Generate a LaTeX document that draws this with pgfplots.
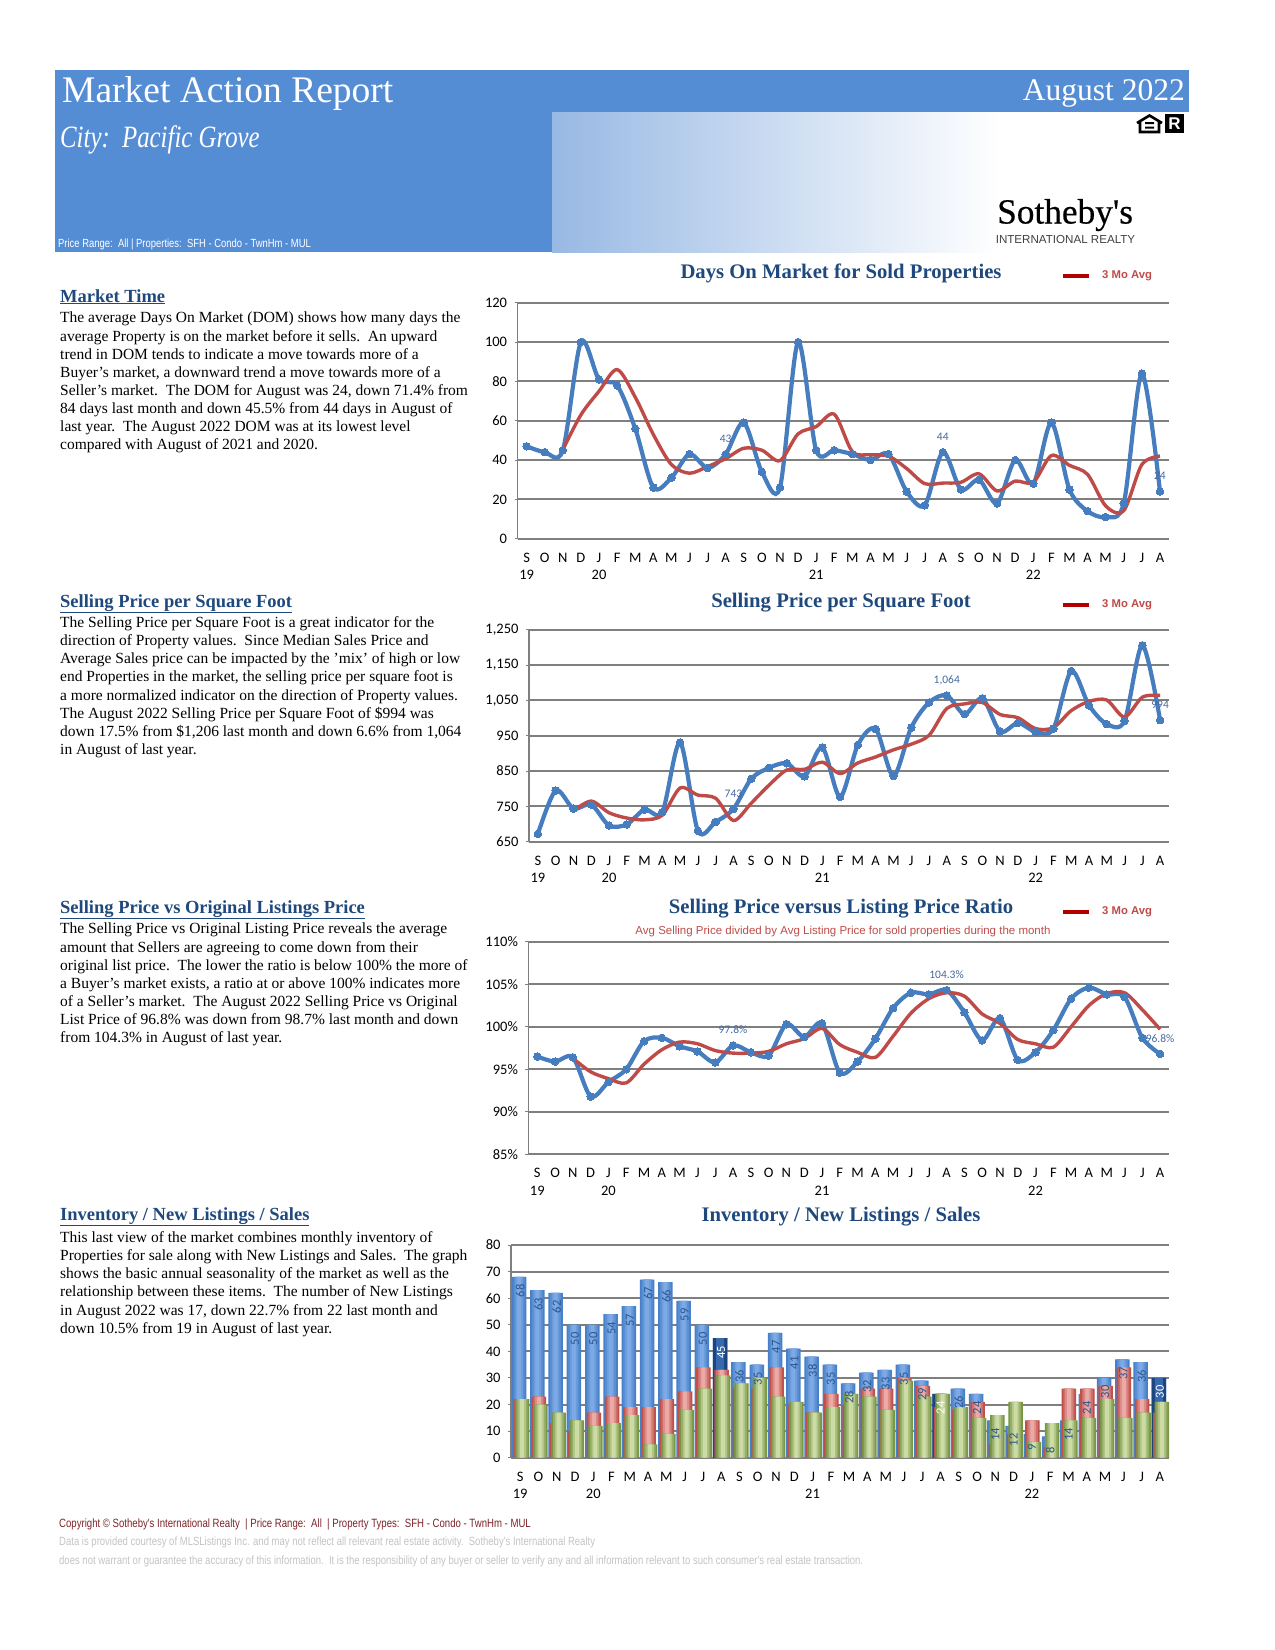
\documentclass[border=0pt]{standalone}
\usepackage{fontspec}
\usepackage{pgfplots}
\usepackage{pgfplotstable}
\pgfplotsset{compat=1.18}
\setmainfont{Liberation Serif}
\newfontfamily\chartfont{Carlito}
\newfontfamily\armain{Liberation Sans}
\newfontfamily\narrowfont[FakeStretch=0.8]{Liberation Sans}
\newfontfamily\cityfont[FakeStretch=0.8]{Liberation Serif Italic}
\newfontfamily\logofont[FakeBold=0.5]{Liberation Serif}
\definecolor{banner}{RGB}{85,141,213}
\definecolor{bannerlt}{RGB}{152,185,228}
\definecolor{navy}{RGB}{31,73,125}
\definecolor{gridgray}{RGB}{127,127,127}
\definecolor{linblue}{RGB}{70,125,190}
\definecolor{linred}{RGB}{190,75,72}
\definecolor{lblblue}{RGB}{70,105,160}
\definecolor{barlbl}{RGB}{45,85,140}
\definecolor{footred}{RGB}{125,35,40}
\definecolor{footgray}{RGB}{195,195,195}
\definecolor{bluee}{RGB}{72,128,200}
\definecolor{bluec}{RGB}{125,170,230}
\definecolor{darke}{RGB}{28,68,125}
\definecolor{darkc}{RGB}{55,105,175}
\definecolor{rede}{RGB}{190,80,75}
\definecolor{redc}{RGB}{235,170,165}
\definecolor{greene}{RGB}{120,150,70}
\definecolor{greenc}{RGB}{205,220,165}

% month index, value, 3 month average
\pgfplotstableread{
n dom avg
0 47 nan
1 44 nan
2 45 45.3
3 100 63
4 81 75
5 78 86
6 56 72
7 26 53
8 31 37.7
9 43 33.3
10 36 36.7
11 43 40.7
12 59 46
13 34 45
14 26 39.7
15 100 53.3
16 45 57
17 45 63.3
18 43 44.3
19 40 42.7
20 43 42
21 24 35.7
22 17 28
23 44 28.3
24 25 28.7
25 30 33
26 18 24.3
27 40 29.3
28 28 28.7
29 59 42.3
30 25 37.3
31 14 32.7
32 11 16.7
33 18 14.3
34 84 37.7
35 24 42
}\domtable
\pgfplotstableread{
n ppsf avg
0 672 nan
1 795 nan
2 744 737
3 755 765
4 696 732
5 699 717
6 741 712
7 734 725
8 931 802
9 681 782
10 706 773
11 743 710
12 828 759
13 859 810
14 872 853
15 835 855
16 917 875
17 777 843
18 924 873
19 969 890
20 836 910
21 973 926
22 1044 951
23 1064 1027
24 1011 1040
25 1056 1044
26 962 1010
27 986 1001
28 961 970
29 970 973
30 1133 1021
31 1036 1047
32 983 1051
33 992 1003
34 1206 1059
35 994 1064
}\ppsftable
\pgfplotstableread{
n ratio avg
0 96.5 nan
1 95.9 nan
2 96.4 96.3
3 91.8 94.7
4 93.5 93.9
5 95.0 93.4
6 98.3 95.6
7 98.7 97.3
8 97.7 98.2
9 97.1 98.0
10 95.8 97.2
11 97.8 96.9
12 97.0 96.9
13 96.6 97.1
14 100.3 98.0
15 98.8 98.6
16 100.4 99.8
17 94.6 97.9
18 95.9 97.0
19 98.6 96.4
20 102.2 98.9
21 104.0 101.6
22 103.8 103.3
23 104.3 104.0
24 101.7 103.6
25 98.4 101.5
26 101.0 100.4
27 96.1 98.5
28 97.0 98.0
29 99.6 97.6
30 103.3 100.0
31 104.6 102.5
32 103.8 103.9
33 103.5 104.0
34 98.7 102.0
35 96.8 99.7
}\ratiotable
\pgfplotstableread{
n inv newl sales
0 68 22 22
1 63 23 20
2 62 13 17
3 50 10 14
4 50 17 12
5 54 23 13
6 57 19 16
7 67 19 5
8 66 22 9
9 59 25 18
10 50 34 26
11 45 33 31
12 36 26 28
13 35 26 30
14 47 34 23
15 41 20 21
16 38 17 17
17 35 24 19
18 28 20 24
19 32 26 23
20 33 26 18
21 35 30 29
22 29 27 23
23 24 19 24
24 26 18 19
25 24 21 15
26 14 5 16
27 12 9 21
28 9 14 6
29 8 4 13
30 14 26 14
31 24 26 15
32 30 27 22
33 37 34 15
34 36 22 17
35 30 17 21
}\invtable

\pgfplotsset{
  mkt/.style={
    scale only axis,
    clip=false,
    /pgf/number format/assume math mode=true,
    xmin=-0.5, xmax=35.5,
    axis x line*=bottom,
    axis y line*=left,
    axis line style={draw=gridgray,line width=1.6pt},
    ymajorgrids,
    grid style={draw=gridgray,line width=2pt},
    tick align=outside,
    major tick length=3pt,
    minor tick length=5pt,
    y tick style={draw=gridgray,line width=1pt},
    x tick style={draw=none},
    minor tick style={draw=gridgray,line width=1pt},
    xtick={0,...,35},
    minor xtick={-0.5,0.5,...,35.5},
    xticklabels={S,O,N,D,J,F,M,A,M,J,J,A,S,O,N,D,J,F,M,A,M,J,J,A,S,O,N,D,J,F,M,A,M,J,J,A},
    tick label style={font=\chartfont\fontsize{14.5}{16}\selectfont},
    xticklabel style={anchor=base,yshift=-20.5pt},
    yticklabel style={xshift=-4pt},
    extra x ticks={0,4,16,28},
    extra x tick labels={19,20,21,22},
    extra x tick style={xticklabel style={yshift=-17.5pt},x tick style={draw=none}},
  },
  mainline/.style={color=linblue,line width=4.2pt,smooth,tension=0.5,mark=*,
    mark size=3.8pt,mark options={fill=linblue,draw=linblue,line width=0pt}},
  avgline/.style={color=linred,line width=3.4pt,smooth,tension=0.5,no markers},
  ptlabel/.style={only marks,mark=none,point meta=explicit symbolic,nodes near coords,
    every node near coord/.style={font=\chartfont\fontsize{11.5}{13}\selectfont,
      text=lblblue,anchor=center,yshift=15.5pt}},
  cyl/.style n args={3}{ybar,bar width=#1pt,bar shift=#2pt,draw=none,fill=#3},
  barlabel/.style={only marks,mark=none,point meta=y,nodes near coords,
    every node near coord/.style={font=\chartfont\fontsize{12.5}{14}\selectfont,
      text=#1,rotate=90,anchor=center,xshift=-14pt}},
}

% one bar series as nested widths, darker at the edges
\newcommand\cylcol[4]{%
  \addplot[cyl={14.5}{#2}{#3}] table[x=n,y=#1] {\invtable};
  \addplot[cyl={11}{#2}{#4!33!#3}] table[x=n,y=#1] {\invtable};
  \addplot[cyl={7.5}{#2}{#4!66!#3}] table[x=n,y=#1] {\invtable};
  \addplot[cyl={4}{#2}{#4}] table[x=n,y=#1] {\invtable};
}

\newcommand\ctitle[2]{\node[font=\bfseries\fontsize{20.7}{23}\selectfont,text=navy] at (841,-#2) {#1};}
\newcommand\cleg[1]{%
  \draw[color=red!70!black,line width=3.4pt] (1063,-#1) -- (1089,-#1);
  \node[anchor=west,inner sep=0,font=\armain\bfseries\fontsize{11.3}{13}\selectfont,text=linred] at (1102,-#1) {3 Mo Avg};}
\newcommand\shead[2]{\node[anchor=base west,inner sep=0,font=\bfseries\fontsize{18.5}{20}\selectfont,text=navy] at (60,-#1) {\underline{#2}};}
\newcommand\sbody[2]{\node[anchor=north west,inner sep=0,align=left,font=\fontsize{15.5}{18.1}\selectfont] at (60,-#1) {#2};}

\begin{document}
\begin{tikzpicture}[x=1pt,y=1pt]
\path[use as bounding box] (0,0) rectangle (1275,-1650);

% banner
\fill[banner] (55,-70) rectangle (1189,-112);
\fill[banner] (55,-112) rectangle (552,-252);
\shade[left color=bannerlt,right color=white] (552,-112) rectangle (1000,-252);
\node[anchor=base west,inner sep=0,text=white,font=\fontsize{37.5}{40}\selectfont] at (62,-102) {Market Action Report};
\node[anchor=base east,inner sep=0,text=white,font=\fontsize{31.5}{34}\selectfont] at (1185,-100) {August 2022};
\node[anchor=base west,inner sep=0,text=white,font=\cityfont\fontsize{31}{33}\selectfont] at (60,-147) {City:\ \ Pacific Grove};
\node[anchor=base west,inner sep=0,text=white,font=\narrowfont\fontsize{11.8}{13}\selectfont] at (58,-247) {Price Range:\ \ All | Properties:\ \ SFH - Condo - TwnHm - MUL};

% equal housing and realtor marks
\draw[black,line width=2.6pt,line join=miter] (1137,-123) -- (1149.5,-115.5) -- (1162,-123) (1140,-122) -- (1140,-132) -- (1159,-132) -- (1159,-122);
\fill[black] (1145,-122) rectangle (1154,-124.2) (1145,-126.5) rectangle (1154,-128.7);
\fill[black] (1165,-114) rectangle (1184,-133);
\node[inner sep=0,text=white,font=\armain\bfseries\fontsize{17}{17}\selectfont] at (1174.5,-123.5) {R};

% logo
\node[anchor=base west,inner sep=0,font=\logofont\fontsize{35.3}{37}\selectfont] at (997,-223.5) {Sotheby's};
\node[anchor=center,inner sep=0,text=black!75,font=\armain\fontsize{11.6}{13}\selectfont] at (1065.5,-240) {INTERNATIONAL REALTY};

% left column
\shead{302}{Market Time}
\sbody{312}{The average Days On Market (DOM) shows how many days the\\
average Property is on the market before it sells.\ \ An upward\\
trend in DOM tends to indicate a move towards more of a\\
Buyer's market, a downward trend a move towards more of a\\
Seller's market.\ \ The DOM for August was 24, down 71.4\% from\\
84 days last month and down 45.5\% from 44 days in August of\\
last year.\ \ The August 2022 DOM was at its lowest level\\
compared with August of 2021 and 2020.}

\shead{607}{Selling Price per Square Foot}
\sbody{616.5}{The Selling Price per Square Foot is a great indicator for the\\
direction of Property values.\ \ Since Median Sales Price and\\
Average Sales price can be impacted by the 'mix' of high or low\\
end Properties in the market, the selling price per square foot is\\
a more normalized indicator on the direction of Property values.\\
The August 2022 Selling Price per Square Foot of \$994 was\\
down 17.5\% from \$1,206 last month and down 6.6\% from 1,064\\
in August of last year.}

\shead{913}{Selling Price vs Original Listings Price}
\sbody{923}{The Selling Price vs Original Listing Price reveals the average\\
amount that Sellers are agreeing to come down from their\\
original list price.\ \ The lower the ratio is below 100\% the more of\\
a Buyer's market exists, a ratio at or above 100\% indicates more\\
of a Seller's market.\ \ The August 2022 Selling Price vs Original\\
List Price of 96.8\% was down from 98.7\% last month and down\\
from 104.3\% in August of last year.}

\shead{1220}{Inventory / New Listings / Sales}
\sbody{1231.5}{This last view of the market combines monthly inventory of\\
Properties for sale along with New Listings and Sales.\ \ The graph\\
shows the basic annual seasonality of the market as well as the\\
relationship between these items.\ \ The number of New Listings\\
in August 2022 was 17, down 22.7\% from 22 last month and\\
down 10.5\% from 19 in August of last year.}

% chart titles
\ctitle{Days On Market for Sold Properties}{273}
\cleg{276}
\ctitle{Selling Price per Square Foot}{603}
\cleg{605}
\ctitle{Selling Price versus Listing Price Ratio}{909}
\cleg{912}
\node[font=\armain\fontsize{11.5}{13}\selectfont,text=linred] at (843,-932) {Avg Selling Price divided by Avg Listing Price for sold properties during the month};
\ctitle{Inventory / New Listings / Sales}{1217}

% days on market
\begin{axis}[mkt,at={(517.6pt,-538.7pt)},anchor=south west,width=651.4pt,height=236pt,
  ymin=0,ymax=120,ytick={0,20,...,120}]
\addplot[mainline] table[x=n,y=dom] {\domtable};
\addplot[avgline] table[x=n,y=avg] {\domtable};
\addplot[ptlabel] coordinates {(11,43) [43] (23,44) [44] (35,24) [24]};
\end{axis}

% price per square foot
\begin{axis}[mkt,at={(529pt,-841.7pt)},anchor=south west,width=640pt,height=212pt,
  ymin=650,ymax=1250,ytick={650,750,850,950,1050,1150,1250},
  yticklabels={650,750,850,950,{1,050},{1,150},{1,250}}]
\addplot[mainline] table[x=n,y=ppsf] {\ppsftable};
\addplot[avgline] table[x=n,y=avg] {\ppsftable};
\addplot[ptlabel] coordinates {(11,743) [743] (23,1064) [{1,064}] (35,994) [994]};
\end{axis}

% selling vs listing ratio
\begin{axis}[mkt,at={(528.4pt,-1154.3pt)},anchor=south west,width=640.6pt,height=212.6pt,
  ymin=85,ymax=110,ytick={85,90,...,110},
  yticklabels={85\%,90\%,95\%,100\%,105\%,110\%}]
\addplot[mainline] table[x=n,y=ratio] {\ratiotable};
\addplot[avgline] table[x=n,y=avg] {\ratiotable};
\addplot[ptlabel] coordinates {(11,97.8) [97.8\%] (23,104.3) [104.3\%] (35,96.8) [96.8\%]};
\end{axis}

% inventory, new listings, sales
\begin{axis}[mkt,at={(511pt,-1457.7pt)},anchor=south west,width=658pt,height=212.7pt,
  ymin=0,ymax=80,ytick={0,10,...,80}]
\cylcol{inv}{-1}{bluee}{bluec}
% the Augusts stand out in a darker blue
\addplot[cyl={14.5}{-1}{darke}] coordinates {(11,45) (23,24) (35,30)};
\addplot[cyl={8}{-1}{darkc}] coordinates {(11,45) (23,24) (35,30)};
\cylcol{newl}{0.5}{rede}{redc}
\cylcol{sales}{2}{greene}{greenc}
\addplot[barlabel=barlbl] coordinates {(0,68) (1,63) (2,62) (3,50) (4,50) (5,54) (6,57) (7,67) (8,66) (9,59) (10,50)
  (12,36) (13,35) (14,47) (15,41) (16,38) (17,35) (18,28) (19,32) (20,33) (21,35) (22,29)
  (24,26) (25,24) (26,14) (27,12) (28,9) (29,8) (30,14) (31,24) (32,30) (33,37) (34,36)};
\addplot[barlabel=white] coordinates {(11,45) (23,24) (35,30)};
\end{axis}

% footer
\node[anchor=base west,inner sep=0,text=footred,font=\narrowfont\fontsize{12}{13}\selectfont] at (59,-1527) {Copyright \textcopyright\ Sotheby's International Realty\ \ | Price Range:\ \ All\ \ | Property Types:\ \ SFH - Condo - TwnHm - MUL};
\node[anchor=base west,inner sep=0,text=footgray,font=\narrowfont\fontsize{11.9}{13}\selectfont] at (59,-1545) {Data is provided courtesy of MLSListings Inc. and may not reflect all relevant real estate activity.\ \ Sotheby's International Realty};
\node[anchor=base west,inner sep=0,text=footgray,font=\narrowfont\fontsize{11.9}{13}\selectfont] at (59,-1564.5) {does not warrant or guarantee the accuracy of this information.\ \ It is the responsibility of any buyer or seller to verify any and all information relevant to such consumer's real estate transaction.};
\end{tikzpicture}
\end{document}
